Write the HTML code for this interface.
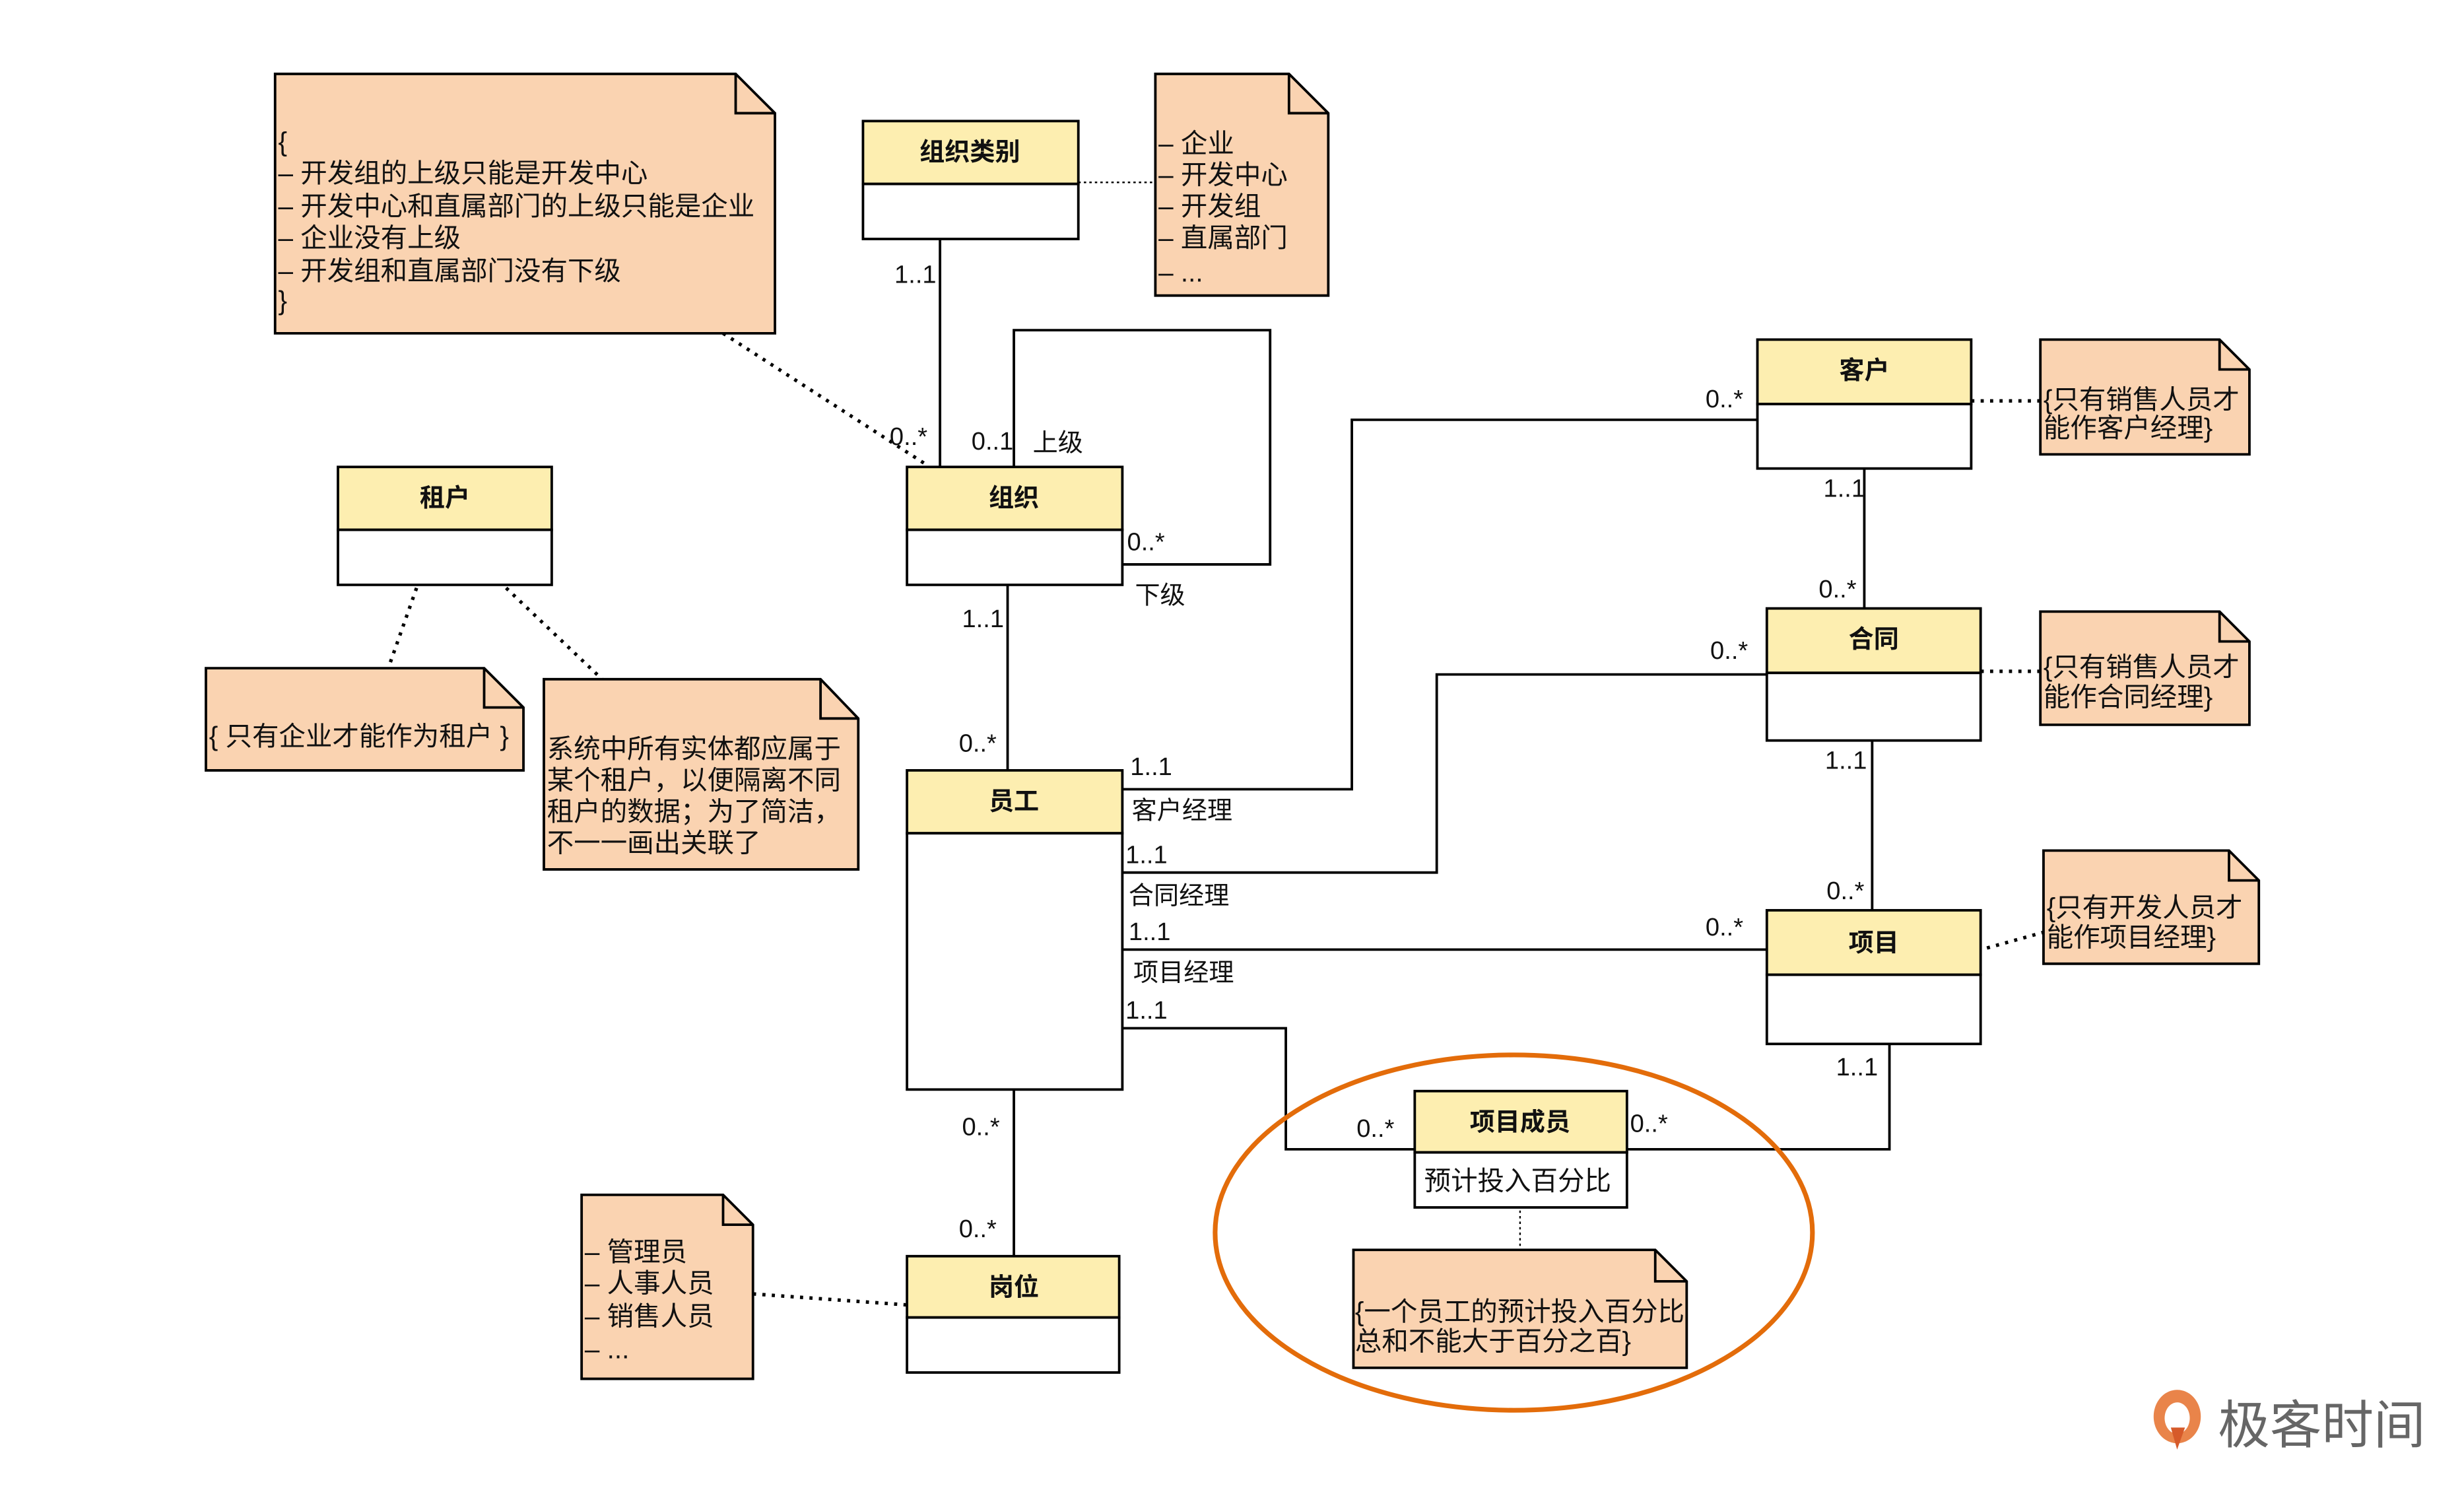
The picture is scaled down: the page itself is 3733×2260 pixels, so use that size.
<!DOCTYPE html>
<html><head><meta charset="utf-8"><style>
html,body{margin:0;padding:0;background:#fff;width:3733px;height:2260px;overflow:hidden}
text{font-family:"Liberation Sans","Noto Sans CJK SC",sans-serif;fill:#111}
.t{font-size:17px}
.b{font-size:16px;font-weight:bold}
.m{font-size:16px}
</style></head><body>
<svg width="3733" height="2260" viewBox="0 0 1567.5 949" preserveAspectRatio="none" xmlns="http://www.w3.org/2000/svg">
<g fill="none" stroke="#000" stroke-width="1.6">
<path d="M598 152V297"/>
<path d="M645 297V210H808V359H714"/>
<path d="M641 372V490"/>
<path d="M714 502H860V267H1118"/>
<path d="M1186 298V387"/>
<path d="M714 555H914V429H1124"/>
<path d="M1191 471V579"/>
<path d="M714 604H1124"/>
<path d="M714 654H818V731H900"/>
<path d="M1035 731H1202V664"/>
<path d="M645 693V799"/>
</g>
<g fill="none" stroke="#000" stroke-width="2.2" stroke-dasharray="2 4">
<path d="M460 212L590 296"/>
<path d="M265 374L247 425"/>
<path d="M322 374L383 432"/>
<path d="M1254 255H1298"/>
<path d="M1260 427H1298"/>
<path d="M1264 603L1300 593"/>
<path d="M479 823L577 830"/>
</g>
<g fill="none" stroke="#000" stroke-width="1" stroke-dasharray="1.5 2">
<path d="M686 116H735"/>
<path d="M967 770V795"/>
</g>
<g fill="#fad3b1" stroke="#000" stroke-width="1.6">
<path d="M175 47H468L493 72V212H175Z"/><path d="M468 47V72H493" fill="none"/>
<path d="M735 47H820L845 72V188H735Z"/><path d="M820 47V72H845" fill="none"/>
<path d="M131 425H308L333 450V490H131Z"/><path d="M308 425V450H333" fill="none"/>
<path d="M346 432H522L546 457V553H346Z"/><path d="M522 432V457H546" fill="none"/>
<path d="M1298 216H1412L1431 235V289H1298Z"/><path d="M1412 216V235H1431" fill="none"/>
<path d="M1298 389H1412L1431 408V461H1298Z"/><path d="M1412 389V408H1431" fill="none"/>
<path d="M1300 541H1418L1437 560V613H1300Z"/><path d="M1418 541V560H1437" fill="none"/>
<path d="M861 795H1053L1073 815V870H861Z"/><path d="M1053 795V815H1073" fill="none"/>
<path d="M370 760H460L479 779V877H370Z"/><path d="M460 760V779H479" fill="none"/>
</g>
<g stroke="#000" stroke-width="1.6">
<rect x="549" y="77" width="137" height="40" fill="#fdeeb0"/><rect x="549" y="117" width="137" height="35" fill="#fff"/>
<rect x="577" y="297" width="137" height="40" fill="#fdeeb0"/><rect x="577" y="337" width="137" height="35" fill="#fff"/>
<rect x="215" y="297" width="136" height="40" fill="#fdeeb0"/><rect x="215" y="337" width="136" height="35" fill="#fff"/>
<rect x="577" y="490" width="137" height="40" fill="#fdeeb0"/><rect x="577" y="530" width="137" height="163" fill="#fff"/>
<rect x="1118" y="216" width="136" height="41" fill="#fdeeb0"/><rect x="1118" y="257" width="136" height="41" fill="#fff"/>
<rect x="1124" y="387" width="136" height="41" fill="#fdeeb0"/><rect x="1124" y="428" width="136" height="43" fill="#fff"/>
<rect x="1124" y="579" width="136" height="41" fill="#fdeeb0"/><rect x="1124" y="620" width="136" height="44" fill="#fff"/>
<rect x="900" y="694" width="135" height="39" fill="#fdeeb0"/><rect x="900" y="733" width="135" height="35" fill="#fff"/>
<rect x="577" y="799" width="135" height="39" fill="#fdeeb0"/><rect x="577" y="838" width="135" height="35" fill="#fff"/>
</g>
<ellipse cx="963" cy="784" rx="190" ry="113" fill="none" stroke="#e36c0a" stroke-width="3"/>
<g class="b" text-anchor="middle">
<text x="617" y="102">组织类别</text>
<text x="645" y="322">组织</text>
<text x="283" y="322">租户</text>
<text x="645" y="515">员工</text>
<text x="1186" y="241">客户</text>
<text x="1192" y="412">合同</text>
<text x="1192" y="605">项目</text>
<text x="967" y="719">项目成员</text>
<text x="645" y="824">岗位</text>
</g>
<text class="t" x="906" y="757">预计投入百分比</text>
<g class="t">
<text x="177" y="96">{</text>
<text x="177" y="116">– 开发组的上级只能是开发中心</text>
<text x="177" y="137">– 开发中心和直属部门的上级只能是企业</text>
<text x="177" y="157">– 企业没有上级</text>
<text x="177" y="178">– 开发组和直属部门没有下级</text>
<text x="177" y="197">}</text>
<text x="737" y="97">– 企业</text>
<text x="737" y="117">– 开发中心</text>
<text x="737" y="137">– 开发组</text>
<text x="737" y="157">– 直属部门</text>
<text x="737" y="179">– ...</text>
<text x="133" y="474">{ 只有企业才能作为租户 }</text>
<text x="348" y="482">系统中所有实体都应属于</text>
<text x="348" y="502">某个租户，以便隔离不同</text>
<text x="348" y="522">租户的数据；为了简洁，</text>
<text x="348" y="542">不一一画出关联了</text>
<text x="1300" y="260">{只有销售人员才</text>
<text x="1300" y="278">能作客户经理}</text>
<text x="1300" y="430">{只有销售人员才</text>
<text x="1300" y="449">能作合同经理}</text>
<text x="1302" y="583">{只有开发人员才</text>
<text x="1302" y="602">能作项目经理}</text>
<text x="862" y="840">{一个员工的预计投入百分比</text>
<text x="862" y="859">总和不能大于百分之百}</text>
<text x="372" y="802">– 管理员</text>
<text x="372" y="822">– 人事人员</text>
<text x="372" y="843">– 销售人员</text>
<text x="372" y="864">– ...</text>
</g>
<g class="m">
<text x="569" y="180">1..1</text>
<text x="566" y="283">0..*</text>
<text x="618" y="286">0..1</text>
<text x="657" y="287">上级</text>
<text x="717" y="350">0..*</text>
<text x="722" y="384">下级</text>
<text x="612" y="399">1..1</text>
<text x="610" y="478">0..*</text>
<text x="719" y="493">1..1</text>
<text x="720" y="521">客户经理</text>
<text x="716" y="549">1..1</text>
<text x="718" y="575">合同经理</text>
<text x="718" y="598">1..1</text>
<text x="721" y="624">项目经理</text>
<text x="716" y="648">1..1</text>
<text x="1085" y="259">0..*</text>
<text x="1160" y="316">1..1</text>
<text x="1157" y="380">0..*</text>
<text x="1088" y="419">0..*</text>
<text x="1161" y="489">1..1</text>
<text x="1162" y="572">0..*</text>
<text x="1085" y="595">0..*</text>
<text x="1168" y="684">1..1</text>
<text x="1037" y="720">0..*</text>
<text x="863" y="723">0..*</text>
<text x="612" y="722">0..*</text>
<text x="610" y="787">0..*</text>
</g>
<g>
<path d="M1385 884a15 17 0 1 0 0.1 0Z" fill="#e9844a"/>
<path d="M1385 892a8 10 0 1 0 0.1 0Z" fill="#fff"/>
<path d="M1381 908l4 14l5-14Z" fill="#d65a2a"/>
<text x="1411" y="918" style="font-size:33px;fill:#666">极客时间</text>
</g>
</svg>
</body></html>
